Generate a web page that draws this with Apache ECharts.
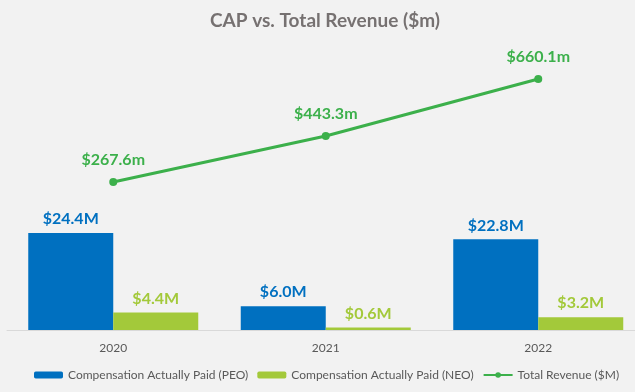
<!DOCTYPE html>
<html>
<head>
<meta charset="utf-8">
<script src="https://cdn.jsdelivr.net/npm/echarts@6/dist/echarts.min.js"></script>
<style>
html,body{margin:0;padding:0;background:#f2f2f2;overflow:hidden;}
#wrap{width:635px;height:392px;overflow:hidden;}
#c{width:650px;height:392px;}
</style>
</head>
<body>
<div id="wrap"><div id="c"></div></div>
<script>
const categories = ['2020', '2021', '2022'];
const peoValues = [24.4, 6.0, 22.8];
const neoValues = [4.4, 0.6, 3.2];
const revenueValues = [267.6, 443.3, 660.1];
const seriesNames = ['Compensation Actually Paid (PEO)', 'Compensation Actually Paid (NEO)', 'Total Revenue ($M)'];
const titleText = 'CAP vs. Total Revenue ($m)';

const FONT = 'Lato, "Open Sans", sans-serif';
const chart = echarts.init(document.getElementById('c'), null, {renderer: 'canvas'});
chart.setOption({
  backgroundColor: '#f2f2f2',
  animation: false,
  textStyle: {fontFamily: FONT},
  title: {
    text: titleText,
    left: 320,
    textAlign: 'center',
    top: 6,
    textStyle: {fontFamily: FONT, fontSize: 19, fontWeight: 'bold', color: '#767171'}
  },
  legend: {
    top: 369,
    left: 34,
    width: 640,
    padding: 0,
    itemWidth: 29,
    itemHeight: 7,
    itemGap: 9,
    textStyle: {fontFamily: FONT, fontSize: 12, color: '#595959'},
    data: seriesNames
  },
  grid: {left: 7, right: 5.5, top: 41, height: 289, containLabel: false},
  xAxis: {
    type: 'category',
    data: categories,
    axisLine: {lineStyle: {color: '#d9d9d9', width: 1}},
    axisTick: {show: false},
    axisLabel: {color: '#595959', fontSize: 12, margin: 12, fontFamily: FONT}
  },
  yAxis: [
    {type: 'value', min: 0, max: 72.7, show: false, splitLine: {show: false}},
    {type: 'value', min: -296, max: 805, show: false, splitLine: {show: false}}
  ],
  series: [
    {
      name: seriesNames[0], type: 'bar', data: peoValues,
      barGap: '0%', barCategoryGap: '20%',
      itemStyle: {color: '#0070c0'},
      label: {show: true, position: 'top', distance: 6, color: '#0070c0', fontSize: 16, fontWeight: 'bold', fontFamily: FONT,
        formatter: p => '$' + p.value.toFixed(1) + 'M'}
    },
    {
      name: seriesNames[1], type: 'bar', data: neoValues,
      itemStyle: {color: '#a3c93a'},
      label: {show: true, position: 'top', distance: 6, color: '#a3c93a', fontSize: 16, fontWeight: 'bold', fontFamily: FONT,
        formatter: p => '$' + p.value.toFixed(1) + 'M'}
    },
    {
      name: seriesNames[2], type: 'line', yAxisIndex: 1, data: revenueValues,
      symbol: 'circle', symbolSize: 8,
      lineStyle: {color: '#3cb04b', width: 3},
      itemStyle: {color: '#3cb04b'},
      label: {show: true, position: 'top', distance: 10, color: '#3cb04b', fontSize: 16, fontWeight: 'bold', fontFamily: FONT,
        formatter: p => '$' + p.value.toFixed(1) + 'm'}
    }
  ]
});
</script>
</body>
</html>
